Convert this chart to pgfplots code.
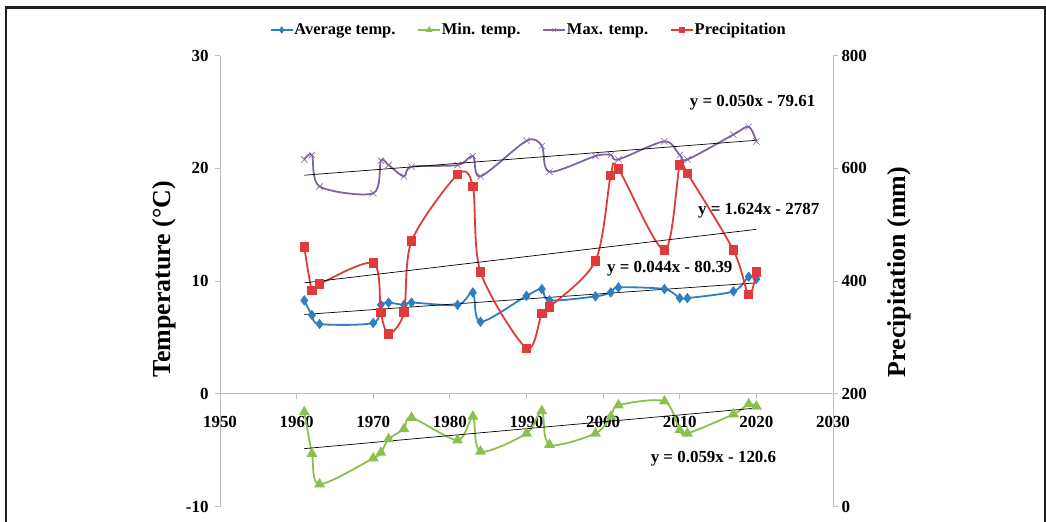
\documentclass[border=0pt]{standalone}
\usepackage{pgfplots}
\pgfplotsset{compat=1.18}
\usepackage{fontspec}
\setmainfont{Liberation Serif}

\definecolor{avgc}{HTML}{2E7FC2}
\definecolor{minc}{HTML}{8CC04E}
\definecolor{maxc}{HTML}{8064A2}
\definecolor{prec}{HTML}{DF3B3B}
\definecolor{axc}{HTML}{BFBFBF}

\pgfplotsset{
  chartbase/.style={
    at={(220bp,15.3bp)}, anchor=south west,
    scale only axis, width=613bp, height=451bp,
    xmin=1950, xmax=2030,
    /pgf/number format/assume math mode=true,
    /pgf/number format/1000 sep={},
    tick label style={font=\fontsize{17}{19}\selectfont\bfseries},
    axis line style={axc, line width=1bp},
    tick style={axc, line width=1bp},
    major tick length=5bp,
    tick align=outside,
    label style={font=\fontsize{26}{28}\selectfont\bfseries},
  },
  series/.style={line width=1.8bp, smooth, tension=0.5},
}

% year  avg  min  max  (deg C)
\pgfplotstableread{
year avg   tmin   tmax
1961 8.3   -1.6   20.8
1962 7.0   -5.3   21.2
1963 6.2   -8.0   18.4
1970 6.3   -5.7   17.8
1971 7.9   -5.2   20.7
1972 8.1   -4.0   20.3
1974 7.9   -3.1   19.3
1975 8.1   -2.1   20.15
1981 7.9   -4.1   20.3
1983 9.0   -2.0   21.1
1984 6.4   -5.1   19.3
1990 8.7   -3.5   22.45
1992 9.3   -1.5   22.0
1993 8.3   -4.5   19.7
1999 8.65  -3.5   21.1
2001 9.0   -2.0   21.2
2002 9.45  -1.0   20.8
2008 9.3   -0.65  22.4
2010 8.5   -3.2   21.2
2011 8.5   -3.5   20.8
2017 9.1   -1.8   23.0
2019 10.4  -0.9   23.7
2020 10.2  -1.1   22.4
}\temps

% precipitation (mm)
\pgfplotstableread{
year prec
1961 461
1962 384
1963 395
1970 432
1971 344
1972 306
1974 344
1975 471
1981 589
1983 568
1984 416
1990 281
1992 343
1993 354
1999 436
2001 588
2002 599
2008 455
2010 606
2011 591
2017 455
2019 376
2020 416
}\precip

\begin{document}
\begin{tikzpicture}

\begin{axis}[chartbase,
  ymin=-10, ymax=30, ytick={-10,0,10,20,30},
  yticklabels={-10,0,10,20,30},
  yticklabel style={xshift=-3bp},
  xtick={1950,1960,...,2030},
  axis y line*=left, axis x line*=middle,
  hide obscured x ticks=false,
  xticklabel style={yshift=-14bp},
  ylabel={Temperature (°C)},
  ylabel style={at={(axis description cs:-0.091,0.504)}, anchor=center},
  ]
  \addplot[series, avgc, mark=diamond*, mark size=3.8bp] table[x=year, y=avg] {\temps};
  \addplot[series, minc, mark=triangle*, mark size=4.5bp] table[x=year, y=tmin] {\temps};
  \addplot[series, maxc, mark=x, mark size=4.5bp, mark options={line width=0.6bp}] table[x=year, y=tmax] {\temps};
  % linear trends
  \addplot[black, line width=0.7bp] coordinates {(1961,7.05) (2020,9.85)};
  \addplot[black, line width=0.7bp] coordinates {(1961,-4.85) (2020,-1.25)};
  \addplot[black, line width=0.7bp] coordinates {(1961,19.4) (2020,22.5)};
  \begin{scope}[every node/.style={font=\fontsize{17}{19}\selectfont\bfseries, inner sep=0pt}]
    \node at (axis cs:2019.5,25.8) {y = 0.050x - 79.61};
    \node at (axis cs:2020.3,16.25) {y = 1.624x - 2787};
    \node at (axis cs:2008.7,11.1) {y = 0.044x - 80.39};
    \node at (axis cs:2014.4,-5.7) {y = 0.059x - 120.6};
  \end{scope}
\end{axis}

\begin{axis}[chartbase,
  ymin=0, ymax=800, ytick={0,200,...,800},
  axis y line*=right, axis x line=none,
  ylabel={Precipitation (mm)},
  ylabel style={at={(axis description cs:1.108,0.52)}, anchor=center},
  legend columns=4,
  legend style={at={(0.503,1.057)}, anchor=center, draw=none, fill=none,
    font=\fontsize{16.5}{18}\selectfont\bfseries,
    nodes={inner sep=1bp},
    /tikz/every even column/.append style={column sep=21bp}},
  legend image code/.code={\draw[mark repeat=2, mark phase=2, #1, line width=1.5bp, mark size=2.5bp] plot coordinates {(0bp,0bp) (11bp,0bp) (22bp,0bp)};},
  ]
  \addlegendimage{avgc, mark=diamond*}
  \addlegendentry{Average temp.}
  \addlegendimage{minc, mark=triangle*}
  \addlegendentry{Min. temp.}
  \addlegendimage{maxc, mark=x, mark options={line width=0.5bp}}
  \addlegendentry{Max. temp.}
  \addplot[series, prec, mark=square*, mark size=3.8bp] table[x=year, y=prec] {\precip};
  \addlegendentry{Precipitation}
  \addplot[black, line width=0.7bp, forget plot] coordinates {(1961,397) (2020,492)};
\end{axis}

\draw[line width=2.3bp, black!88] (6bp,-5bp) -- (6bp,514.5bp) -- (1045bp,514.5bp) -- (1045bp,-5bp);

\pgfresetboundingbox
\useasboundingbox (0bp,0bp) rectangle (1046bp,522bp);
\end{tikzpicture}
\end{document}
